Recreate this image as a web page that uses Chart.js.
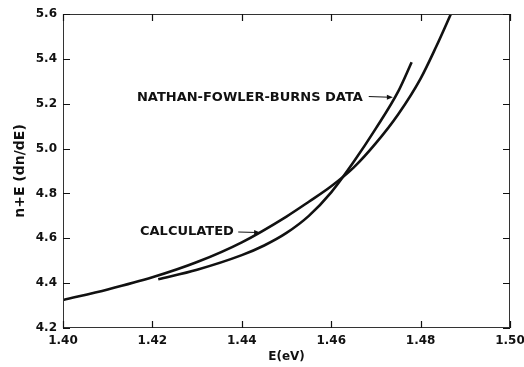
<!DOCTYPE html>
<html><head><meta charset="utf-8">
<script src="https://cdn.jsdelivr.net/npm/chart.js@4/dist/chart.umd.min.js"></script>
<style>html,body{margin:0;padding:0;background:#fff}#wrap{width:524px;height:367px}</style>
</head><body><div id="wrap"><canvas id="c" width="524" height="367"></canvas></div>
<script>
// Calculated curve
const calcE = [1.400, 1.410, 1.420, 1.430, 1.440, 1.450, 1.455, 1.460, 1.465, 1.470, 1.475, 1.480, 1.4835, 1.487];
const calcV = [4.325, 4.372, 4.426, 4.494, 4.582, 4.697, 4.763, 4.832, 4.915, 5.024, 5.153, 5.312, 5.455, 5.610];
// Nathan-Fowler-Burns data
const nfbE = [1.4213, 1.430, 1.440, 1.445, 1.450, 1.455, 1.460, 1.465, 1.470, 1.475, 1.478];
const nfbV = [4.417, 4.460, 4.525, 4.568, 4.624, 4.700, 4.805, 4.940, 5.090, 5.255, 5.385];
// Tick labels
const xTicks = [1.40, 1.42, 1.44, 1.46, 1.48, 1.50];
const xLabels = ['1.40', '1.42', '1.44', '1.46', '1.48', '1.50'];
const yTicks = [4.2, 4.4, 4.6, 4.8, 5.0, 5.2, 5.4, 5.6];
const yLabels = ['4.2', '4.4', '4.6', '4.8', '5.0', '5.2', '5.4', '5.6'];
const xTitle = 'E(eV)';
const yTitle = 'n+E (dn/dE)';
const calcLabel = 'CALCULATED';
const nfbLabel = 'NATHAN-FOWLER-BURNS DATA';

const toPts = (xs, ys) => xs.map((x, i) => ({x, y: ys[i]}));
const INK = '#111';
const FONT = '"DejaVu Sans", sans-serif';

// annotation anchors (data coordinates): text start, arrow start, arrow tip
const notes = [
  {text: calcLabel, tx: 1.41723, ty: 4.628, ax0: 1.4392, ax1: 1.4441, ay0: 4.628, ay1: 4.626},
  {text: nfbLabel, tx: 1.41655, ty: 5.2254, ax0: 1.4684, ax1: 1.4738, ay0: 5.232, ay1: 5.229}
];

const framePlugin = {
  id: 'frame',
  afterDatasetsDraw(chart) {
    const {ctx, chartArea: a, scales: {x, y}} = chart;
    ctx.save();
    ctx.strokeStyle = '#333';
    ctx.lineWidth = 1;
    ctx.strokeRect(a.left + 0.5, a.top + 0.5, a.right - a.left - 1, a.bottom - a.top - 1);
    ctx.lineWidth = 1.2;
    ctx.strokeStyle = INK;
    const L = 7;
    ctx.beginPath();
    xTicks.forEach(v => {
      const px = Math.round(x.getPixelForValue(v)) + 0.5;
      ctx.moveTo(px, a.bottom); ctx.lineTo(px, a.bottom - L);
      ctx.moveTo(px, a.top); ctx.lineTo(px, a.top + L);
    });
    yTicks.forEach(v => {
      const py = Math.round(y.getPixelForValue(v)) + 0.5;
      ctx.moveTo(a.left, py); ctx.lineTo(a.left + L, py);
      ctx.moveTo(a.right, py); ctx.lineTo(a.right - L, py);
    });
    ctx.stroke();
    // annotations
    ctx.fillStyle = INK;
    ctx.font = 'bold 13px ' + FONT;
    ctx.textBaseline = 'middle';
    ctx.textAlign = 'left';
    notes.forEach(n => {
      ctx.fillText(n.text, x.getPixelForValue(n.tx), y.getPixelForValue(n.ty));
      const x0 = x.getPixelForValue(n.ax0), x1 = x.getPixelForValue(n.ax1);
      const y0 = y.getPixelForValue(n.ay0), y1 = y.getPixelForValue(n.ay1);
      ctx.lineWidth = 1;
      ctx.beginPath(); ctx.moveTo(x0, y0); ctx.lineTo(x1 - 4, y1); ctx.stroke();
      ctx.beginPath(); ctx.moveTo(x1, y1); ctx.lineTo(x1 - 6, y1 - 2.5); ctx.lineTo(x1 - 6, y1 + 2.5); ctx.closePath(); ctx.fill();
    });
    ctx.restore();
  }
};

new Chart(document.getElementById('c'), {
  type: 'scatter',
  data: {
    datasets: [
      {label: calcLabel, data: toPts(calcE, calcV), showLine: true, borderColor: INK, borderWidth: 2.6, pointRadius: 0, cubicInterpolationMode: 'monotone', fill: false},
      {label: nfbLabel, data: toPts(nfbE, nfbV), showLine: true, borderColor: INK, borderWidth: 2.6, pointRadius: 0, cubicInterpolationMode: 'monotone', fill: false}
    ]
  },
  options: {
    responsive: false,
    animation: false,
    layout: {padding: {top: 14, right: 14, left: 0, bottom: 0}},
    plugins: {legend: {display: false}, tooltip: {enabled: false}},
    scales: {
      x: {
        type: 'linear', min: 1.40, max: 1.50,
        afterBuildTicks: s => { s.ticks = xTicks.map(v => ({value: v})); },
        afterFit: s => { s.height = 39; s.paddingLeft = 0; s.paddingRight = 0; },
        grid: {display: false, drawTicks: false},
        border: {display: false},
        ticks: {padding: 6, color: INK, font: {family: FONT, size: 12, weight: 'bold'}, callback: (v, i) => xLabels[i], maxRotation: 0, autoSkip: false},
        title: {display: true, text: xTitle, color: INK, font: {family: FONT, size: 12, weight: 'bold'}, padding: {top: 0, bottom: 3}}
      },
      y: {
        type: 'linear', min: 4.2, max: 5.6,
        afterBuildTicks: s => { s.ticks = yTicks.map(v => ({value: v})); },
        afterFit: s => { s.width = 63; s.paddingTop = 0; s.paddingBottom = 0; },
        grid: {display: false, drawTicks: false},
        border: {display: false},
        ticks: {padding: 6, color: INK, font: {family: FONT, size: 12, weight: 'bold'}, callback: (v, i) => yLabels[i], autoSkip: false},
        title: {display: true, text: yTitle, color: INK, font: {family: FONT, size: 14, weight: 'bold'}, padding: {top: 12, bottom: 0}}
      }
    }
  },
  plugins: [framePlugin]
});
</script>
</body></html>
